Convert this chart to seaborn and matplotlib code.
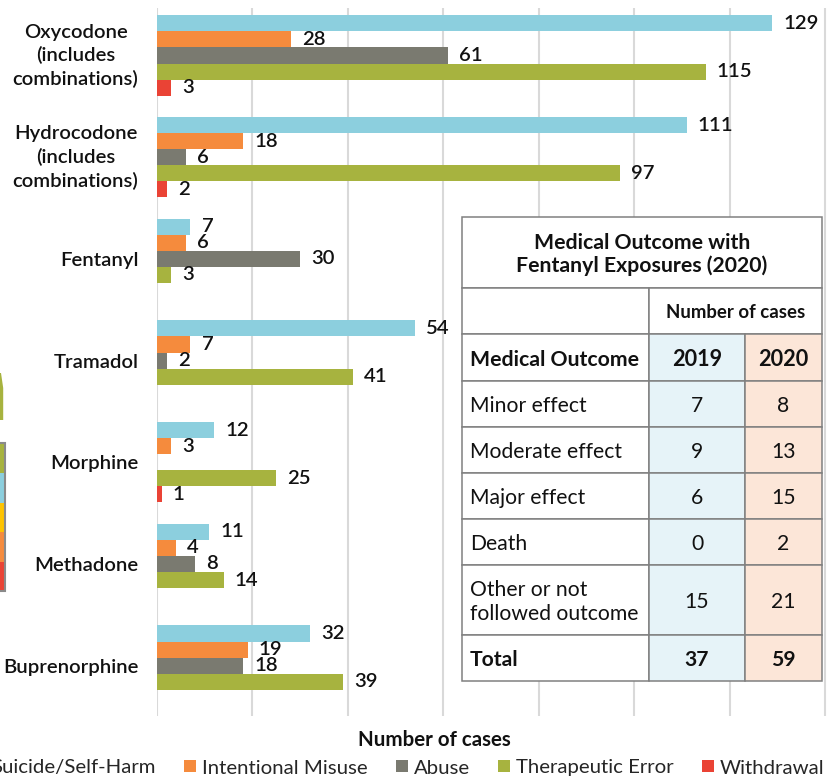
import matplotlib
matplotlib.use('Agg')
import matplotlib.pyplot as plt
from matplotlib.patches import Rectangle, Polygon
from matplotlib.transforms import ScaledTranslation
import numpy as np
import pandas as pd
import seaborn as sns

drugs = ['Oxycodone\n(includes\ncombinations)', 'Hydrocodone\n(includes\ncombinations)', 'Fentanyl',
         'Tramadol', 'Morphine', 'Methadone', 'Buprenorphine']
suicide = [129, 111, 7, 54, 12, 11, 32]
misuse = [28, 18, 6, 7, 3, 4, 19]
abuse = [61, 6, 30, 2, np.nan, 8, 18]
therapeutic = [115, 97, 3, 41, 25, 14, 39]
withdrawal = [3, 2, np.nan, np.nan, 1, np.nan, np.nan]

reason_names = ['Suicide/Self-Harm', 'Intentional Misuse', 'Abuse', 'Therapeutic Error', 'Withdrawal']
reason_colors = ['#8ccfde', '#f58b3d', '#7a7a70', '#a7b33f', '#ea4335']

outcomes = ['Minor effect', 'Moderate effect', 'Major effect', 'Death', 'Other or not\nfollowed outcome', 'Total']
cases_2019 = [7, 9, 6, 0, 15, 37]
cases_2020 = [8, 13, 15, 2, 21, 59]

sns.set_theme(style='white')
plt.rcParams['font.family'] = ['Lato', 'DejaVu Sans']

rows = []
for name, vals in zip(reason_names, [suicide, misuse, abuse, therapeutic, withdrawal]):
    rows.append(pd.DataFrame({'drug': drugs, 'reason': name, 'cases': vals}))
data = pd.concat(rows, ignore_index=True)

W, H = 835, 776
fig = plt.figure(figsize=(W / 100, H / 100), dpi=100)
ax = fig.add_axes([157 / W, (H - 716) / H, (W - 157) / W, 708 / H])

sns.barplot(data=data, y='drug', x='cases', hue='reason', order=drugs, hue_order=reason_names,
            palette=reason_colors, saturation=1, width=0.79, gap=0, orient='y', ax=ax, zorder=3,
            linewidth=0)

ax.set_xlim(0, 142.1)
ax.set_ylim(6.495, -0.467)
ax.set_xticks(np.arange(0, 141, 20))
ax.set_xticklabels([])
ax.grid(axis='x', color='#d9d9d9', lw=1.5, zorder=0)
ax.set_axisbelow(True)
ax.tick_params(axis='both', length=0)
ax.tick_params(axis='y', pad=13.3, labelsize=14.6)
# three line labels sit a little high in the reference
nudge = ScaledTranslation(0, 4 / 100, fig.dpi_scale_trans)
for t in ax.get_yticklabels():
    t.set_multialignment('center')
    t.set_fontweight('semibold')
    t.set_color('#111111')
    t.set_linespacing(1.38)
    if '\n' in t.get_text():
        t.set_transform(t.get_transform() + nudge)
sns.despine(ax=ax, left=True, bottom=True)
ax.set_ylabel('')
ax.set_xlabel('Number of cases', fontsize=14.8, fontweight='bold', color='#111111')
ax.xaxis.set_label_coords((434.5 - 157) / (W - 157), -(740 - 716) / 708, transform=ax.transAxes)
ax.xaxis.label.set_va('center')

for cont in ax.containers:
    ax.bar_label(cont, fmt='%g', padding=8, fontsize=14.6, fontweight='semibold', color='#111111')

sns.move_legend(ax, 'center', bbox_to_anchor=(0.5, 0.5), bbox_transform=fig.transFigure, ncol=5, frameon=False,
                title=None, fontsize=14.7, handlelength=0.56, handleheight=0.56, handletextpad=0.3,
                columnspacing=1.4)
leg = ax.get_legend()
leg.set_bbox_to_anchor((399 / W, (H - 768) / H), transform=fig.transFigure)

# overlay in pixel coordinates for the inset table and the cropped scraps on the left edge
over = fig.add_axes([0, 0, 1, 1], facecolor='none')
over.set_xlim(0, W)
over.set_ylim(H, 0)
over.axis('off')


def cell(x0, x1, y0, y1, txt='', fill='white', bold=False, ha='center', size=15.2, spacing=1.2):
    over.add_patch(Rectangle((x0, y0), x1 - x0, y1 - y0, fc=fill, ec='#808080', lw=1.1))
    if txt != '':
        tx = (x0 + x1) / 2 if ha == 'center' else x0 + 8
        over.text(tx, (y0 + y1) / 2 + 2, txt, ha=ha, va='center', fontsize=size, color='#111111',
                  fontweight='bold' if bold else 'normal', linespacing=spacing)


c0, c1, c2, c3 = 462, 649, 745, 822
blue_fill, peach_fill = '#e6f3f8', '#fce6d8'
cell(c0, c3, 217, 288, 'Medical Outcome with\nFentanyl Exposures (2020)', bold=True, size=15.3, spacing=1.1)
cell(c0, c1, 288, 334)
cell(c1, c3, 288, 334, 'Number of cases', bold=True, size=13.4)
cell(c0, c1, 334, 381, 'Medical Outcome', bold=True, ha='left', size=15.3)
cell(c1, c2, 334, 381, '2019', fill=blue_fill, bold=True, size=15.6)
cell(c2, c3, 334, 381, '2020', fill=peach_fill, bold=True, size=15.6)
edges = [381, 427, 473, 519, 565, 635, 681]
for i, name in enumerate(outcomes):
    is_total = name == 'Total'
    cell(c0, c1, edges[i], edges[i + 1], name, ha='left', bold=is_total)
    cell(c1, c2, edges[i], edges[i + 1], str(cases_2019[i]), fill=blue_fill, bold=is_total)
    cell(c2, c3, edges[i], edges[i + 1], str(cases_2020[i]), fill=peach_fill, bold=is_total)

# cropped pieces of another graphic at the left edge
over.add_patch(Polygon([(-1, 373), (1, 373), (3.2, 388), (3.2, 420), (-1, 420)], fc='#a7b33f', ec='none'))
scrap = ['#a7b33f', '#8ccfde', '#fdc300', '#f58b3d', '#ea4335']
tops = [443, 473, 503, 532, 562]
for col, top in zip(scrap, tops):
    over.add_patch(Rectangle((-2, top), 6, 30, fc=col, ec='none'))
over.add_patch(Rectangle((-2, 443), 7, 148, fc='none', ec='#8a8a8a', lw=1.5))

fig.savefig('out.png', dpi=100)
